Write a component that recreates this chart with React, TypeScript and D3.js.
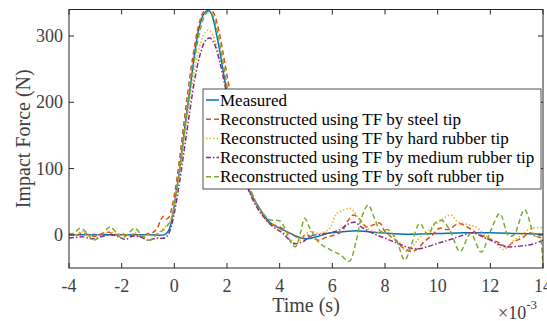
import React from "react";
import * as d3 from "d3";

type P = [number, number];

const xTicks = [-4, -2, 0, 2, 4, 6, 8, 10, 12, 14];
const yTicks = [0, 100, 200, 300];

const seriesNames = [
  "Measured",
  "Reconstructed using TF by steel tip",
  "Reconstructed using TF by hard rubber tip",
  "Reconstructed using TF by medium rubber tip",
  "Reconstructed using TF by soft rubber tip",
];

const measured: P[] = [
  [-4, 0], [-3, 0], [-2, 0], [-1, 0], [-0.4, 0], [-0.3, 2], [-0.2, 8], [-0.1, 22], [0, 45], [0.1, 72], [0.2, 98], [0.3, 130], [0.4, 163], [0.5, 193], [0.6, 222], [0.7, 252], [0.8, 281], [0.9, 305], [1.0, 321], [1.1, 332], [1.2, 337], [1.3, 339], [1.4, 334], [1.5, 322], [1.6, 303], [1.7, 283], [1.8, 260], [1.9, 237], [2.0, 214], [2.2, 165], [2.4, 125], [2.6, 95], [2.8, 70], [3.0, 55], [3.2, 42], [3.4, 30], [3.6, 20], [3.8, 14], [4.0, 10], [4.3, 4], [4.7, -3], [5.0, -6], [5.4, -3], [5.8, 2], [6.5, 5], [7.0, 6], [7.8, 3], [8.8, 1], [10, 2], [11, 3], [12, 3], [13, 2], [14, 1],
];

const steelTip: P[] = [
  [-4, 2], [-3.75, -1], [-3.5, 3], [-3.25, 0], [-3, -2], [-2.75, 2], [-2.5, 4], [-2.25, 0], [-2, 2], [-1.75, -2], [-1.5, 1], [-1.25, -3], [-1, 2], [-0.8, 4], [-0.65, 10], [-0.5, 24], [-0.4, 28], [-0.3, 24], [-0.2, 27], [-0.1, 40], [0, 60], [0.1, 85], [0.2, 115], [0.3, 148], [0.5, 212], [0.7, 268], [0.9, 312], [1.1, 336], [1.3, 342], [1.5, 334], [1.7, 306], [1.9, 263], [2.1, 218], [2.3, 168], [2.5, 124], [2.7, 90], [2.9, 66], [3.1, 48], [3.3, 35], [3.5, 22], [3.7, 16], [4.0, 12], [4.4, 2], [4.8, -5], [5.0, 0], [5.27, -5], [5.5, -8], [5.8, -3], [6.1, 0], [6.36, 5], [6.6, 22], [6.8, 30], [7.0, 25], [7.3, 12], [7.55, 15], [7.8, 18], [8.0, 5], [8.4, -8], [8.7, -20], [9.0, -25], [9.2, -22], [9.5, -10], [9.8, 0], [10.07, 10], [10.4, 8], [10.8, 17], [11.2, 10], [11.5, 2], [11.8, -3], [12.1, -8], [12.35, -12], [12.6, -18], [12.9, -10], [13.2, -5], [13.5, 3], [13.8, -3], [14, -5],
];

const hardRubberTip: P[] = [
  [-4, 3], [-3.75, 0], [-3.5, 5], [-3.25, -2], [-3, 2], [-2.75, -3], [-2.5, 5], [-2.25, 2], [-2, 0], [-1.75, -2], [-1.5, 3], [-1.25, -3], [-1, 0], [-0.75, -2], [-0.55, 5], [-0.4, 10], [-0.3, 14], [-0.2, 18], [-0.1, 28], [0, 45], [0.1, 68], [0.2, 93], [0.4, 150], [0.6, 205], [0.8, 255], [1.0, 290], [1.15, 304], [1.3, 309], [1.45, 302], [1.6, 285], [1.8, 250], [2.0, 208], [2.2, 165], [2.4, 127], [2.6, 97], [2.8, 72], [3.0, 52], [3.2, 38], [3.4, 26], [3.6, 18], [3.8, 13], [4.0, 8], [4.3, -2], [4.64, -13], [4.9, -2], [5.15, 5], [5.53, 2], [5.9, 10], [6.16, 32], [6.4, 37], [6.7, 40], [7.04, 22], [7.3, 10], [7.6, 5], [8.0, 2], [8.3, -5], [8.56, -12], [8.8, -25], [9.07, -16], [9.3, -5], [9.57, 3], [9.8, 12], [10.2, 24], [10.5, 30], [10.75, 20], [11.0, 17], [11.2, 15], [11.45, 12], [11.85, -2], [12.15, -10], [12.5, -22], [12.9, -8], [13.2, 0], [13.5, 9], [13.9, 11], [14, 10],
];

const mediumRubberTip: P[] = [
  [-4, -5], [-3.5, -3], [-3.1, -6], [-2.7, -2], [-2.4, 0], [-2.1, -3], [-1.87, -7], [-1.6, -2], [-1.3, -3], [-1.0, -8], [-0.7, -5], [-0.4, -5], [-0.3, -3], [-0.2, 3], [-0.1, 15], [0, 33], [0.1, 55], [0.2, 80], [0.4, 135], [0.6, 190], [0.8, 240], [1.0, 275], [1.2, 294], [1.35, 297], [1.5, 290], [1.7, 265], [1.9, 230], [2.1, 190], [2.3, 148], [2.5, 112], [2.7, 82], [2.9, 60], [3.1, 44], [3.3, 32], [3.5, 22], [3.7, 14], [3.9, 8], [4.1, 3], [4.3, -5], [4.52, -13], [4.9, -10], [5.15, -2], [5.6, 1], [6.0, 4], [6.3, 8], [6.54, 15], [6.85, 19], [7.1, 12], [7.4, 5], [7.67, 0], [8.0, -5], [8.3, -10], [8.56, -14], [8.94, -20], [9.3, -21], [9.6, -18], [10.07, -12], [10.4, -8], [10.7, -4], [11.0, 0], [11.2, 3], [11.45, 2], [11.7, -3], [12.0, -8], [12.3, -14], [12.6, -18], [13.1, -17], [13.5, -15], [13.9, -10], [14, -8],
];

const softRubberTip: P[] = [
  [-4, 0], [-3.8, 3], [-3.58, 10], [-3.3, 2], [-3.08, -8], [-2.8, -2], [-2.44, 12], [-2.2, 3], [-2.0, -5], [-1.75, 2], [-1.5, 10], [-1.25, 0], [-0.93, -8], [-0.7, 0], [-0.5, 5], [-0.3, 12], [-0.1, 25], [0, 45], [0.2, 98], [0.4, 160], [0.6, 218], [0.8, 272], [1.0, 312], [1.15, 330], [1.3, 337], [1.45, 332], [1.6, 312], [1.8, 272], [2.0, 225], [2.2, 178], [2.4, 138], [2.6, 105], [2.8, 78], [3.0, 58], [3.2, 42], [3.4, 31], [3.6, 23], [3.8, 22], [4.0, 21], [4.2, 10], [4.45, -13], [4.6, -18], [4.8, 5], [4.95, 25], [5.15, 10], [5.5, -12], [5.9, -22], [6.3, -30], [6.64, -40], [6.9, -10], [7.1, 25], [7.36, 45], [7.6, 25], [7.85, 5], [8.1, 8], [8.4, -5], [8.75, -38], [9.0, -15], [9.32, 17], [9.63, 0], [9.9, 18], [10.15, 22], [10.45, 8], [10.85, -25], [11.25, 2], [11.65, -26], [12.0, 5], [12.36, 32], [12.7, -2], [12.9, 0], [13.3, 38], [13.7, -2], [13.85, 2], [14, -48],
];

const allSeries = [measured, steelTip, hardRubberTip, mediumRubberTip, softRubberTip];
const colors = ["#0072BD", "#D95319", "#EDB120", "#7E2F8E", "#77AC30"];
const dashes = ["none", "5,3", "1.5,2", "5,2,1.5,2", "5,3"];

export default function App() {
  const W = 547, H = 321;
  const left = 69, right = 543, top = 9.5, bottom = 268;
  const x = d3.scaleLinear().domain([-4, 14]).range([left, right]);
  const y = d3.scaleLinear().domain([-50, 340]).range([bottom, top]);
  const line = d3
    .line<P>()
    .x((d) => x(d[0]))
    .y((d) => y(d[1]))
    .curve(d3.curveCatmullRom.alpha(0.5));
  const font = "'Liberation Serif', 'Times New Roman', serif";
  const axisColor = "#262626";
  const textColor = "#404040";
  const tick = 5;

  const legX = 203, legY = 89, legW = 338, legH = 100, rowH = 19.2;

  return (
    <svg width={W} height={H} style={{ position: "absolute", left: 0, top: 0, background: "#fff" }}>
      <defs>
        <clipPath id="plotclip">
          <rect x={left} y={top} width={right - left} height={bottom - top} />
        </clipPath>
      </defs>
      <rect x={0} y={0} width={W} height={H} fill="#fff" />
      <g clipPath="url(#plotclip)">
        {allSeries.map((s, i) => (
          <path
            key={i}
            d={line(s) || ""}
            fill="none"
            stroke={colors[i]}
            strokeWidth={1.5}
            strokeDasharray={dashes[i]}
          />
        ))}
      </g>
      {/* box */}
      <rect x={left} y={top} width={right - left} height={bottom - top} fill="none" stroke={axisColor} strokeWidth={1} />
      {xTicks.map((t) => (
        <g key={"xt" + t}>
          <line x1={x(t)} x2={x(t)} y1={bottom} y2={bottom - tick} stroke={axisColor} />
          <line x1={x(t)} x2={x(t)} y1={top} y2={top + tick} stroke={axisColor} />
          <text x={x(t)} y={292} textAnchor="middle" fontFamily={font} fontSize={18} fill={textColor}>
            {t}
          </text>
        </g>
      ))}
      {yTicks.map((t) => (
        <g key={"yt" + t}>
          <line x1={left} x2={left + tick} y1={y(t)} y2={y(t)} stroke={axisColor} />
          <line x1={right} x2={right - tick} y1={y(t)} y2={y(t)} stroke={axisColor} />
          <text x={63} y={y(t) + 6} textAnchor="end" fontFamily={font} fontSize={18} fill={textColor}>
            {t}
          </text>
        </g>
      ))}
      <text x={(left + right) / 2} y={312} textAnchor="middle" fontFamily={font} fontSize={20} fill={textColor}>
        Time (s)
      </text>
      <text
        transform={`translate(30,${(top + bottom) / 2}) rotate(-90)`}
        textAnchor="middle"
        fontFamily={font}
        fontSize={20}
        fill={textColor}
      >
        Impact Force (N)
      </text>
      <text x={498} y={319} fontFamily={font} fontSize={18} fill={textColor}>
        ×10
        <tspan fontSize={13} dy={-10}>-3</tspan>
      </text>
      {/* legend */}
      <rect x={legX} y={legY} width={legW} height={legH} fill="#fff" stroke={axisColor} strokeWidth={0.8} />
      {seriesNames.map((n, i) => {
        const cy = legY + 11 + i * rowH;
        return (
          <g key={"lg" + i}>
            <line x1={206} x2={219} y1={cy} y2={cy} stroke={colors[i]} strokeWidth={1.5} strokeDasharray={dashes[i]} />
            <text x={220} y={cy + 5.5} fontFamily={font} fontSize={17} fill="#000">
              {n}
            </text>
          </g>
        );
      })}
    </svg>
  );
}
